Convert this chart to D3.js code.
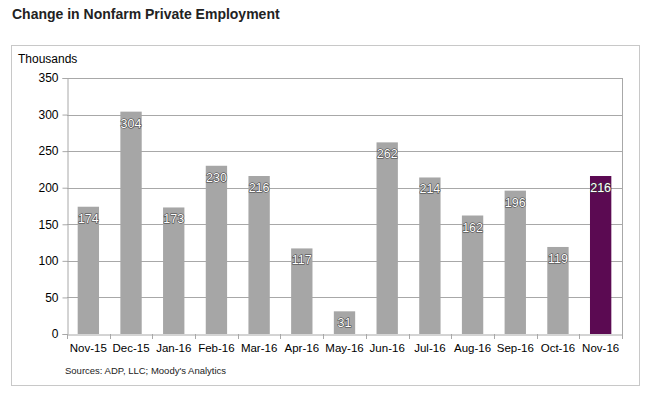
<!DOCTYPE html>
<html>
<head>
<meta charset="utf-8">
<script src="https://cdn.jsdelivr.net/npm/d3@7"></script>
<style>
  body { margin: 0; background: #fff; font-family: Arial, "Liberation Sans", sans-serif; }
  svg text { font-family: Arial, "Liberation Sans", sans-serif; }
</style>
</head>
<body>
<svg></svg>
<script>
let width = 664;
let height = 395;

// data
let months = ['Nov-15', 'Dec-15', 'Jan-16', 'Feb-16', 'Mar-16', 'Apr-16', 'May-16',
              'Jun-16', 'Jul-16', 'Aug-16', 'Sep-16', 'Oct-16', 'Nov-16'];
let jobs = [174, 304, 173, 230, 216, 117, 31, 262, 214, 162, 196, 119, 216];
let yTicks = [0, 50, 100, 150, 200, 250, 300, 350];

let svg = d3.select('svg')
            .attr('width', width)
            .attr('height', height);

let margin = {left: 67, right: 622, top: 78, bottom: 334};

// title
svg.append('text')
   .attr('x', 12)
   .attr('y', 19)
   .attr('font-size', 14)
   .attr('font-weight', 'bold')
   .attr('fill', '#222')
   .text('Change in Nonfarm Private Employment');

// chart frame
svg.append('rect')
   .attr('x', 11.5).attr('y', 45.5)
   .attr('width', 628).attr('height', 340)
   .attr('fill', 'none')
   .attr('stroke', '#c8c8c8');

let x = d3.scaleBand()
          .domain(months)
          .range([margin.left, margin.right])
          .paddingInner(0.5)
          .paddingOuter(0.25);

let y = d3.scaleLinear()
          .domain([0, 350])
          .range([margin.bottom, margin.top]);

// gridlines
svg.append('g')
   .selectAll('line')
   .data(yTicks.slice(1))
   .enter()
   .append('line')
   .attr('x1', margin.left)
   .attr('x2', margin.right)
   .attr('y1', d => Math.round(y(d)) + 0.5)
   .attr('y2', d => Math.round(y(d)) + 0.5)
   .attr('stroke', '#a8a8a8');

// right edge of plot
svg.append('line')
   .attr('x1', margin.right + 0.5).attr('x2', margin.right + 0.5)
   .attr('y1', margin.top).attr('y2', margin.bottom)
   .attr('stroke', '#a8a8a8');

// bars
svg.append('g')
   .selectAll('rect')
   .data(jobs)
   .enter()
   .append('rect')
   .attr('x', (d, i) => x(months[i]))
   .attr('y', d => y(d))
   .attr('width', x.bandwidth())
   .attr('height', d => y(0) - y(d))
   .attr('fill', (d, i) => i == months.length - 1 ? '#5b0a52' : '#a6a6a6');

// value labels
svg.append('g')
   .selectAll('text')
   .data(jobs)
   .enter()
   .append('text')
   .attr('x', (d, i) => x(months[i]) + x.bandwidth() / 2)
   .attr('y', d => y(d) + 16)
   .attr('text-anchor', 'middle')
   .attr('font-size', 12.5)
   .attr('fill', '#fff')
   .attr('stroke', '#3a3a3a')
   .attr('stroke-width', 1.1)
   .attr('paint-order', 'stroke')
   .text(d => d);

// y axis
let yAxis = svg.append('g')
   .attr('transform', 'translate(' + (margin.left + 0.5) + ',0)')
   .call(d3.axisLeft(y).tickValues(yTicks).tickSize(5).tickPadding(4));
yAxis.select('.domain').attr('stroke', '#a8a8a8');
yAxis.selectAll('.tick line').attr('stroke', '#a8a8a8');
yAxis.selectAll('.tick text').attr('font-size', 12).attr('fill', '#000');

// x axis, ticks sit between categories
let xAxis = svg.append('g')
   .attr('transform', 'translate(0,' + (margin.bottom + 0.5) + ')')
   .call(d3.axisBottom(x).tickSize(0).tickPadding(9));
xAxis.select('.domain').attr('stroke', '#a8a8a8');
xAxis.selectAll('.tick text').attr('font-size', 11.5).attr('fill', '#000');

let step = (margin.right - margin.left) / months.length;
svg.append('g')
   .selectAll('line')
   .data(d3.range(months.length + 1))
   .enter()
   .append('line')
   .attr('x1', d => Math.round(margin.left + d * step) + 0.5)
   .attr('x2', d => Math.round(margin.left + d * step) + 0.5)
   .attr('y1', margin.bottom)
   .attr('y2', margin.bottom + 5)
   .attr('stroke', '#a8a8a8');

// axis title and source
svg.append('text')
   .attr('x', 18).attr('y', 63)
   .attr('font-size', 12)
   .text('Thousands');

svg.append('text')
   .attr('x', 65).attr('y', 374)
   .attr('font-size', 9.5)
   .attr('fill', '#222')
   .text("Sources: ADP, LLC; Moody's Analytics");
</script>
</body>
</html>
